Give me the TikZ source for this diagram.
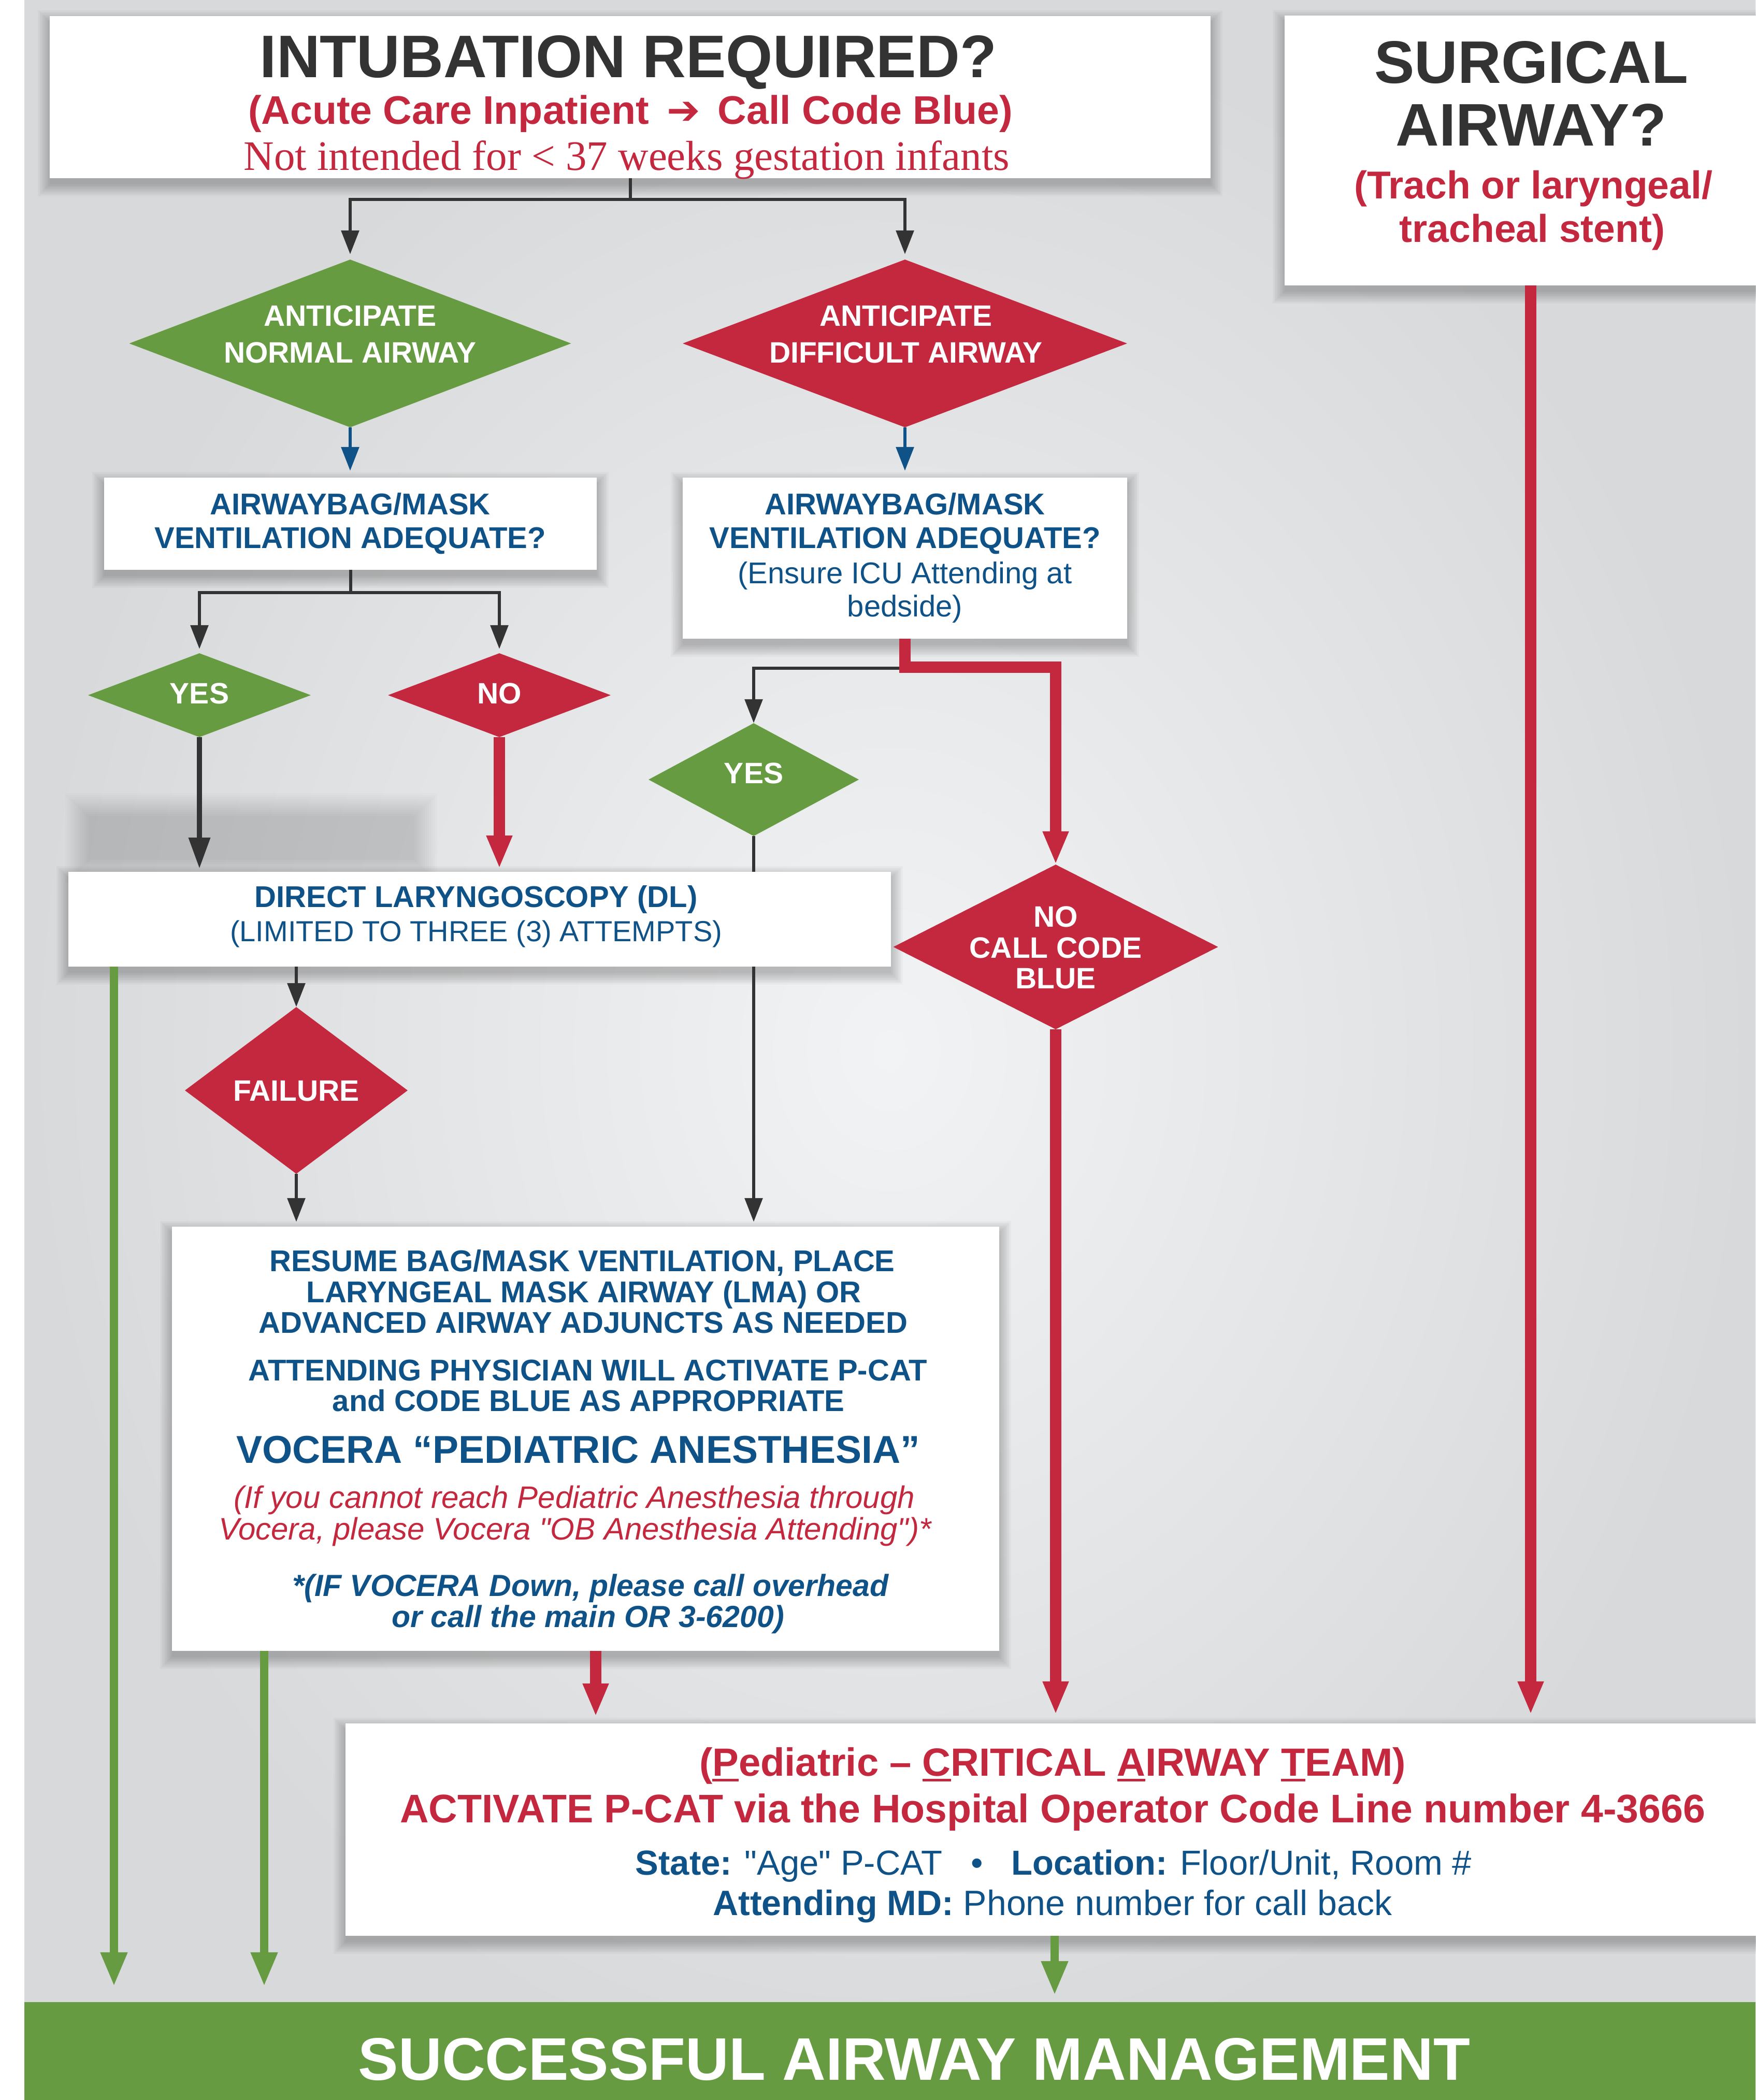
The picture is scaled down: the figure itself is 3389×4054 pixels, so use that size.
\documentclass[tikz,border=0pt]{standalone}
\usepackage{fontspec}
\setmainfont{Liberation Sans}[Ligatures=TeXOff]
\newfontfamily\seriffam{Liberation Serif}
\newfontfamily\dejavu{DejaVu Sans}
\usetikzlibrary{arrows.meta,shapes.geometric}
\definecolor{cgreen}{HTML}{669B41}
\definecolor{cred}{HTML}{C4283F}
\definecolor{cblue}{HTML}{0E5288}
\definecolor{cdark}{HTML}{333333}
\definecolor{bgin}{HTML}{F2F3F4}
\definecolor{bgout}{HTML}{D7D9DB}
\pgfdeclarelayer{bg}
\pgfdeclarelayer{shad}
\pgfdeclarelayer{lines}
\pgfsetlayers{bg,shad,lines,main}
\newcommand\fs[1]{\fontsize{#1}{#1}\selectfont}
\newcommand\myul[1]{\sbox0{#1}\rlap{\rule[-11pt]{\wd0}{5pt}}#1}
% soft shadow below a named box node
\newcommand\boxshadow[1]{%
  \foreach \k in {1,...,10}{%
    \pgfmathsetmacro\e{(10-\k)*2.5}%
    \fill[black,opacity=0.022] ([xshift=-\e pt,yshift=\e pt-12pt]#1.north west) rectangle ([xshift=\e pt,yshift=-\e pt-12pt]#1.south east);
  }}
\begin{document}
\begin{tikzpicture}[x=1pt,y=-1pt,
  box/.style={rectangle,fill=white,draw=none,inner sep=0},
  dia/.style={diamond,draw=none,inner sep=0},
  txt/.style={anchor=base,inner sep=0},
  wt/.style={txt,text=white,font=\fs{57}\bfseries},
  bt/.style={txt,text=cblue,font=\fs{58}\bfseries},
  arrK/.style={draw=cdark,line width=6pt,-{Triangle[length=46pt,width=34pt]}},
  arrKb/.style={draw=cdark,line width=10pt,-{Triangle[length=60pt,width=40pt]}},
  arrU/.style={draw=cblue,line width=6pt,-{Triangle[length=46pt,width=34pt]}},
  arrR/.style={draw=cred,line width=22pt,-{Triangle[length=64pt,width=46pt]}},
  arrG/.style={draw=cgreen,line width=16pt,-{Triangle[length=66pt,width=48pt]}}
]
\useasboundingbox (0,0) rectangle (3389,4054);
\begin{pgfonlayer}{bg}
  \fill[white] (0,0) rectangle (3389,4054);
  \shade[inner color=bgin,outer color=bgout] (47,0) rectangle (3389,4054);
  % soft grey patch above the DL box
  \foreach \k in {1,...,12}{%
    \pgfmathsetmacro\e{(12-\k)*4}%
    \fill[black,opacity=0.013] (170-\e,1575-\e) rectangle (800+\e,1660+\e);
  }
\end{pgfonlayer}

% ---------- boxes and diamonds ----------
\node[box,minimum width=2241pt,minimum height=313pt] (title) at (1216.5,187.5) {};
\node[box,minimum width=950pt,minimum height=521pt] (surg) at (2955,290.5) {};
\node[dia,fill=cgreen,minimum width=853pt,minimum height=324pt] (an) at (676,663) {};
\node[dia,fill=cred,minimum width=858pt,minimum height=324pt] (ad) at (1747,663) {};
\node[box,minimum width=951pt,minimum height=178pt] (awl) at (676.5,1011) {};
\node[box,minimum width=858pt,minimum height=311pt] (awr) at (1747,1077.5) {};
\node[dia,fill=cgreen,minimum width=430pt,minimum height=162pt] (yes1) at (385,1342) {};
\node[dia,fill=cred,minimum width=430pt,minimum height=162pt] (no1) at (964,1342) {};
\node[dia,fill=cgreen,minimum width=406pt,minimum height=218pt] (yes2) at (1455,1505) {};
\node[box,minimum width=1588pt,minimum height=183pt] (dl) at (926,1774.5) {};
\node[dia,fill=cred,minimum width=627pt,minimum height=318pt] (ncb) at (2038,1828) {};
\node[dia,fill=cred,minimum width=430pt,minimum height=322pt] (fail) at (572,2105) {};
\node[box,minimum width=1597pt,minimum height=819pt] (resume) at (1130.5,2777.5) {};
\node[box,minimum width=2738pt,minimum height=410pt] (pcat) at (2036,3532) {};
\node[rectangle,fill=cgreen,inner sep=0,minimum width=3342pt,minimum height=205pt] (bar) at (1718,3967.5) {};

\begin{pgfonlayer}{shad}
  \boxshadow{title}
  \boxshadow{surg}
  \boxshadow{awl}
  \boxshadow{awr}
  \boxshadow{dl}
  \boxshadow{resume}
  \boxshadow{pcat}
\end{pgfonlayer}

\coordinate (xg1) at (220,0);
\coordinate (xg2) at (510,0);
\coordinate (xr1) at (1150,0);

% ---------- texts ----------
\node[txt,text=cdark] (t1) at (1213,150) {\fs{116}\bfseries INTUBATION REQUIRED?};
\node[txt,text=cred] (t2) at (1217,240) {\fs{77}\bfseries (Acute Care Inpatient\hspace{34pt}{\dejavu\bfseries ➔}\hspace{34pt}Call Code Blue)};
\node[txt,text=cred] (t3) at (1210,328) {\fs{81}\seriffam Not intended for < 37 weeks gestation infants};

\node[txt,text=cdark] (s1) at (2956,161) {\fs{116}\bfseries SURGICAL};
\node[txt,text=cdark] (s2) at (2956,281) {\fs{116}\bfseries AIRWAY?};
\node[txt,text=cred] (s3) at (2960,383) {\fs{75}\bfseries (Trach or laryngeal/};
\node[txt,text=cred] (s4) at (2958,467) {\fs{75}\bfseries tracheal stent)};

\node[wt] (a1) at (676,629) {ANTICIPATE};
\node[wt] (a2) at (676,700) {NORMAL AIRWAY};
\node[wt] (d1) at (1749,629) {ANTICIPATE};
\node[wt] (d2) at (1749,700) {DIFFICULT AIRWAY};

\node[bt] (b1) at (676,993) {AIRWAYBAG/MASK};
\node[bt] (b2) at (676,1058) {VENTILATION ADEQUATE?};
\node[bt] (c1) at (1747,993) {AIRWAYBAG/MASK};
\node[bt] (c2) at (1747,1058) {VENTILATION ADEQUATE?};
\node[txt,text=cblue,font=\fs{58}] (c3) at (1747,1126) {(Ensure ICU Attending at};
\node[txt,text=cblue,font=\fs{58}] (c4) at (1747,1190) {bedside)};

\node[wt] (y1t) at (385,1358) {YES};
\node[wt] (n1t) at (964,1358) {NO};
\node[wt] (y2t) at (1455,1512) {YES};

\node[bt] (l1) at (919,1751) {DIRECT LARYNGOSCOPY (DL)};
\node[txt,text=cblue,font=\fs{56}] (l2) at (919,1817) {(LIMITED TO THREE (3) ATTEMPTS)};

\node[wt] (k1) at (2038,1789) {NO};
\node[wt] (k2) at (2038,1849) {CALL CODE};
\node[wt] (k3) at (2038,1908) {BLUE};

\node[wt] (f1) at (572,2125) {FAILURE};

\node[bt] (r1) at (1124,2454) {RESUME BAG/MASK VENTILATION, PLACE};
\node[bt] (r2) at (1127,2514) {LARYNGEAL MASK AIRWAY (LMA) OR};
\node[bt] (r3) at (1126,2573) {ADVANCED AIRWAY ADJUNCTS AS NEEDED};
\node[bt] (r4) at (1135,2665) {ATTENDING PHYSICIAN WILL ACTIVATE P-CAT};
\node[bt] (r5) at (1136,2724) {and CODE BLUE AS APPROPRIATE};
\node[txt,text=cblue,font=\fs{75}\bfseries] (r6) at (1116,2824) {VOCERA “PEDIATRIC ANESTHESIA”};
\node[txt,text=cred,font=\fs{60}\itshape] (r7) at (1109,2911) {(If you cannot reach Pediatric Anesthesia through};
\node[txt,text=cred,font=\fs{60}\itshape] (r8) at (1110,2972) {Vocera, please Vocera "OB Anesthesia Attending")*};
\node[txt,text=cblue,font=\fs{59}\bfseries\itshape] (r9) at (1140,3081) {*(IF VOCERA Down, please call overhead};
\node[txt,text=cblue,font=\fs{59}\bfseries\itshape] (r10) at (1135,3141) {or call the main OR 3-6200)};

\node[txt,text=cred,font=\fs{76}\bfseries] (p1) at (2032,3428) {(\myul{P}ediatric – \myul{C}RITICAL \myul{A}IRWAY \myul{T}EAM)};
\node[txt,text=cred,font=\fs{77}\bfseries] (p2) at (2032,3518) {ACTIVATE P-CAT via the Hospital Operator Code Line number 4-3666};
\node[txt,text=cblue,font=\fs{67}] (p3) at (2034,3619) {\textbf{State:} "Age" P-CAT\hspace{55pt}•\hspace{55pt}\textbf{Location:} Floor/Unit, Room \#};
\node[txt,text=cblue,font=\fs{68}] (p4) at (2032,3697) {\textbf{Attending MD:} Phone number for call back};

\node[txt,text=white,font=\fs{116}\bfseries] (g1t) at (1765,4015) {SUCCESSFUL AIRWAY MANAGEMENT};

% ---------- connectors ----------
\begin{pgfonlayer}{lines}
  \draw[arrK,shorten >=10pt] (title.south) -- ++(0,41) -| (an.north);
  \draw[arrK,shorten >=10pt] (title.south) -- ++(0,41) -| (ad.north);
  \draw[arrU,shorten >=13pt] (an.south) -- (an.south |- awl.north);
  \draw[arrU,shorten >=13pt] (ad.south) -- (ad.south |- awl.north);
  \draw[arrK,shorten >=8pt] (awl.south) -- ++(0,44) -| (yes1.north);
  \draw[arrK,shorten >=8pt] (awl.south) -- ++(0,44) -| (no1.north);
  \draw[arrK] (awr.south) -- ++(0,57) -| (yes2.north);
  \draw[arrR] (awr.south) -- ++(0,55) -| (ncb.north);
  \draw[arrKb,shorten >=6pt] (yes1.south) -- (yes1.south |- dl.north);
  \draw[arrR,shorten >=6pt] (no1.south) -- (no1.south |- dl.north);
  \draw[arrK] (dl.south -| fail.north) -- (fail.north);
  \draw[arrK,shorten >=9pt] (yes2.south) -- (yes2.south |- resume.north);
  \draw[arrK,shorten >=9pt] (fail.south) -- (fail.south |- resume.north);
  \draw[arrG,shorten >=30pt] (dl.south -| xg1) -- (bar.north -| xg1);
  \draw[arrG,shorten >=30pt] (resume.south -| xg2) -- (bar.north -| xg2);
  \draw[arrR,shorten >=13pt] (resume.south -| xr1) -- (pcat.north -| xr1);
  \draw[arrR,shorten >=17pt] (ncb.south) -- (ncb.south |- pcat.north);
  \draw[arrR,shorten >=17pt] (surg.south) -- (surg.south |- pcat.north);
  \draw[arrG,shorten >=13pt] (pcat.south) -- (pcat.south |- bar.north);
\end{pgfonlayer}
\end{tikzpicture}
\end{document}
